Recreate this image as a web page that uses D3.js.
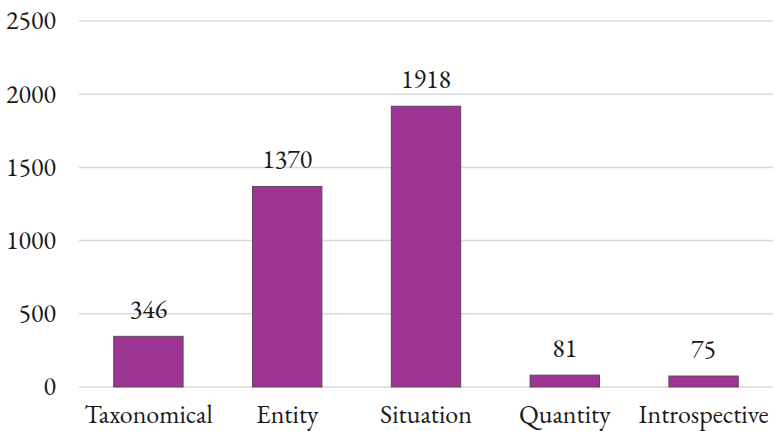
<!DOCTYPE html>
<html>
<head>
<meta charset="utf-8">
<script src="https://cdn.jsdelivr.net/npm/d3@7"></script>
<style>
  html, body { margin: 0; padding: 0; background: #fff; }
  svg { display: block; }
  text { font-family: "EB Garamond", Garamond, "Liberation Serif", "DejaVu Serif", serif; fill: #1a1a1a; }
</style>
</head>
<body>
<svg id="chart" width="774" height="431"></svg>
<script>
// Category counts
const categories = ["Taxonomical", "Entity", "Situation", "Quantity", "Introspective"];
const counts = [346, 1370, 1918, 81, 75];
const yTicks = [0, 500, 1000, 1500, 2000, 2500];

const svg = d3.select("#chart");
const W = 774, H = 431;
const margin = { top: 21, right: 1, bottom: 44, left: 79 };
const fontSize = 26;

const x = d3.scaleBand()
  .domain(categories)
  .range([margin.left, W - margin.right])
  .paddingInner(0.5)
  .paddingOuter(0.25);

const y = d3.scaleLinear()
  .domain([0, 2500])
  .range([H - margin.bottom, margin.top]);

// Horizontal gridlines
svg.append("g")
  .selectAll("line")
  .data(yTicks)
  .join("line")
  .attr("x1", margin.left)
  .attr("x2", W - margin.right)
  .attr("y1", d => y(d))
  .attr("y2", d => y(d))
  .attr("stroke", "#d9d9d9")
  .attr("stroke-width", 1.5);

// Y axis labels
const yAxis = d3.axisLeft(y).tickValues(yTicks).tickSize(0).tickPadding(0).tickFormat(d3.format("d"));
const gy = svg.append("g")
  .attr("transform", `translate(${margin.left - 23},0)`)
  .call(yAxis);
gy.select(".domain").remove();
gy.selectAll("text").attr("font-size", fontSize).attr("dy", "0.3em").style("font-family", null);

// Bars
svg.append("g")
  .selectAll("rect")
  .data(categories)
  .join("rect")
  .attr("x", d => x(d))
  .attr("width", x.bandwidth())
  .attr("y", (d, i) => y(counts[i]))
  .attr("height", (d, i) => y(0) - y(counts[i]))
  .attr("fill", "#9e3493")
  .attr("stroke", "#5a4a58")
  .attr("stroke-width", 1);

// Value labels above bars
svg.append("g")
  .selectAll("text")
  .data(categories)
  .join("text")
  .attr("x", d => x(d) + x.bandwidth() / 2)
  .attr("y", (d, i) => y(counts[i]) - 18)
  .attr("text-anchor", "middle")
  .attr("font-size", fontSize)
  .text((d, i) => counts[i]);

// X axis category labels
const xAxis = d3.axisBottom(x).tickSize(0).tickPadding(0);
const gx = svg.append("g")
  .attr("transform", `translate(0,${y(0) + 36})`)
  .call(xAxis);
gx.select(".domain").remove();
gx.selectAll("text").attr("font-size", fontSize).attr("dy", "0em").style("font-family", null);
</script>
</body>
</html>
